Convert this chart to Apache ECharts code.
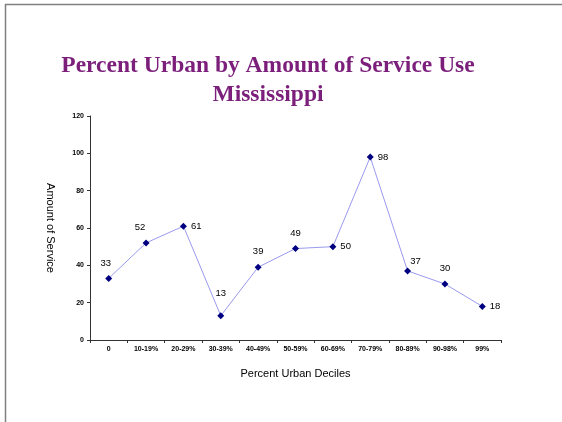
<!DOCTYPE html>
<html><head><meta charset="utf-8">
<script src="https://cdn.jsdelivr.net/npm/echarts@6/dist/echarts.min.js"></script>
<style>html,body{margin:0;padding:0;background:#fff}#c{width:562px;height:422px}</style>
</head><body><div id="c"></div>
<script>
var categories = ['0','10-19%','20-29%','30-39%','40-49%','50-59%','60-69%','70-79%','80-89%','90-98%','99%'];
var values = [33,52,61,13,39,49,50,98,37,30,18];
var yTicks = [0,20,40,60,80,100,120];
var labelPlacement = ['top','top','right','top','top','top','right','right','top','top','right'];
var labelShift = [[-3,0],[-6,0],[0,0],[0,-7],[0,0],[0,0],[0,0],[0,0],[8,6],[0,0],[0,0]];

var chart = echarts.init(document.getElementById('c'));
var data = values.map(function(v,i){
  return {value: v, label: {position: labelPlacement[i], distance: labelPlacement[i]==='right'?4:7, offset: labelShift[i]}};
});
chart.setOption({
  animation:false,
  title:{text:'Percent Urban by Amount of Service Use\nMississippi', left:263, textAlign:'center', top:46,
    textStyle:{fontFamily:'Liberation Serif', fontWeight:'bold', fontSize:23.5, color:'#7b1f7b', lineHeight:29}},
  graphic:[
    {type:'line', shape:{x1:5,y1:4.5,x2:562,y2:4.5}, style:{stroke:'#808080',lineWidth:1.5}},
    {type:'line', shape:{x1:5.5,y1:4,x2:5.5,y2:422}, style:{stroke:'#808080',lineWidth:1.5}}
  ],
  grid:{left:90,right:61,top:116,bottom:82},
  xAxis:{type:'category', data:categories, boundaryGap:true,
    name:'Percent Urban Deciles', nameLocation:'middle', nameGap:28,
    nameTextStyle:{fontFamily:'Liberation Sans', fontSize:11, color:'#000'},
    axisLine:{lineStyle:{color:'#333',width:1}},
    axisTick:{show:true, alignWithLabel:false, length:3, lineStyle:{color:'#333'}},
    axisLabel:{fontFamily:'Liberation Sans', fontWeight:'bold', fontSize:7, color:'#000', margin:6, interval:0}},
  yAxis:{type:'value', min:0, max:120, interval:20,
    name:'Amount of Service', nameLocation:'middle', nameGap:34, nameRotate:-90,
    nameTextStyle:{fontFamily:'Liberation Sans', fontSize:11, color:'#000'},
    axisLine:{show:true,lineStyle:{color:'#333',width:1}},
    axisTick:{show:true,length:3,lineStyle:{color:'#333'}},
    splitLine:{show:false},
    axisLabel:{fontFamily:'Liberation Sans', fontWeight:'bold', fontSize:7, color:'#000', margin:6,
      formatter:function(v){return yTicks.indexOf(v)>=0? String(v):'';}}},
  series:[{type:'line', data:data, symbol:'diamond', symbolSize:7,
    itemStyle:{color:'#000080'},
    lineStyle:{color:'#9999ee',width:1},
    label:{show:true, fontFamily:'Liberation Sans', fontSize:9.5, color:'#000'}}]
});
</script></body></html>
